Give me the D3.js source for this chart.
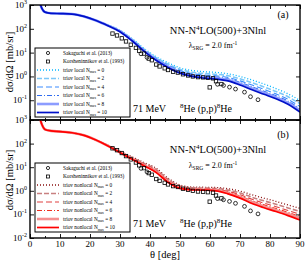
<!DOCTYPE html>
<html>
<head>
<meta charset="utf-8">
<script src="https://cdn.jsdelivr.net/npm/d3@7"></script>
<style>
body { margin: 0; background: #fff; }
text { font-family: "Liberation Serif", "Times New Roman", serif; fill: #000; }
</style>
</head>
<body>
<div id="chart-area"></div>
<script>
// scattering angle grid for the calculations (deg)
var theta = [3, 4, 5, 7, 10, 14, 18, 22, 26, 30, 34, 38, 42, 46, 50, 54, 58, 62, 66, 70, 74, 78, 82, 86, 90]

// (a) local, N_max = 0..10  [mb/sr]
var localN0 = [1580, 708, 501, 447, 437, 417, 331, 224, 145, 87.1, 38.9, 15.1, 6.76, 3.80, 2.29, 1.78, 1.58, 1.48, 1.29, 1.00, 0.708, 0.479, 0.309, 0.186, 0.0977]
var localN2 = [1580, 708, 501, 447, 437, 417, 331, 224, 142, 83.8, 36.7, 14.0, 6.14, 3.34, 1.99, 1.51, 1.33, 1.24, 1.06, 0.792, 0.543, 0.363, 0.234, 0.140, 0.0713]
var localN4 = [1580, 708, 501, 447, 437, 417, 331, 224, 139, 81.1, 34.9, 13.1, 5.65, 2.99, 1.76, 1.32, 1.15, 1.06, 0.900, 0.650, 0.434, 0.286, 0.185, 0.110, 0.0543]
var localN6 = [1580, 708, 501, 447, 437, 417, 331, 224, 138, 79.1, 33.7, 12.5, 5.31, 2.75, 1.61, 1.19, 1.03, 0.942, 0.794, 0.560, 0.366, 0.239, 0.155, 0.0916, 0.0444]
var localN8 = [1580, 708, 501, 447, 437, 417, 331, 224, 136, 77.3, 32.6, 11.9, 5.02, 2.56, 1.48, 1.08, 0.929, 0.849, 0.711, 0.490, 0.314, 0.204, 0.132, 0.0780, 0.0371]
var localN10 = [1580, 708, 501, 447, 437, 417, 331, 224, 135, 75.9, 31.6, 11.5, 4.79, 2.40, 1.38, 1.00, 0.851, 0.776, 0.646, 0.437, 0.275, 0.178, 0.115, 0.0676, 0.0316]

// (b) nonlocal, N_max = 0..10  [mb/sr]
var nonlocalN0 = [1580, 631, 398, 347, 324, 288, 224, 141, 85.1, 47.9, 27.5, 15.8, 9.12, 3.47, 1.78, 1.45, 1.41, 1.38, 1.23, 0.977, 0.676, 0.490, 0.355, 0.251, 0.182]
var nonlocalN2 = [1580, 631, 398, 347, 324, 288, 224, 141, 83.6, 46.0, 25.8, 14.5, 8.13, 3.09, 1.61, 1.34, 1.31, 1.26, 1.07, 0.805, 0.532, 0.376, 0.269, 0.188, 0.132]
var nonlocalN4 = [1580, 631, 398, 347, 324, 288, 224, 141, 82.0, 44.6, 24.4, 13.4, 7.35, 2.79, 1.49, 1.25, 1.22, 1.17, 0.946, 0.682, 0.435, 0.300, 0.212, 0.147, 0.100]
var nonlocalN6 = [1580, 631, 398, 347, 324, 288, 224, 141, 81.1, 43.4, 23.4, 12.6, 6.82, 2.59, 1.40, 1.19, 1.16, 1.10, 0.863, 0.603, 0.372, 0.253, 0.177, 0.122, 0.0813]
var nonlocalN8 = [1580, 631, 398, 347, 324, 288, 224, 141, 80.2, 42.5, 22.6, 12.0, 6.38, 2.43, 1.32, 1.14, 1.11, 1.05, 0.796, 0.540, 0.325, 0.217, 0.151, 0.103, 0.0676]
var nonlocalN10 = [1580, 631, 398, 347, 324, 288, 224, 141, 79.4, 41.7, 21.9, 11.5, 6.03, 2.29, 1.26, 1.10, 1.07, 1.00, 0.741, 0.490, 0.288, 0.191, 0.132, 0.0891, 0.0575]

// experimental data
var sakAngle = [37, 39, 62.5, 64.5, 66.5, 68.5, 71.5, 73.5, 76]
var sakValue = [8.91, 6.31, 0.468, 0.417, 0.355, 0.295, 0.219, 0.141, 0.105]
var korAngle = [27.5, 29, 30.6, 32, 33.6, 35.3, 36.4, 38, 39.6, 40.6, 42.1, 43.2, 44.9, 46, 47.7, 49.3, 51, 52.7, 54.3, 56, 57.7, 59.3, 59.9, 61, 62, 63.8]
var korValue = [63.1, 52.5, 39.8, 29.5, 21.4, 15.8, 12.0, 9.12, 5.62, 4.79, 3.16, 2.63, 2.19, 1.86, 1.58, 1.45, 1.23, 1.10, 1.00, 0.933, 0.912, 0.871, 0.347, 0.832, 0.631, 0.479]

var nmaxLabels = [0, 2, 4, 6, 8, 10]
var xTicks = [0, 10, 20, 30, 40, 50, 60, 70, 80, 90]
var yExpA = [3, 2, 1, 0, -1]
var yExpB = [3, 2, 1, 0, -1, -2]

var localColors = ["#00b4ff", "#7cc8f8", "#3a8cff", "#2f6cf0", "#8c9cff", "#0010c8"]
var nonlocalColors = ["#8b1010", "#c88080", "#e04040", "#f03020", "#f49090", "#ff0000"]
var dashes = ["1,2", "5,2", "6,3", "5,2,1,2", null, null]
var widths = [1.3, 1.6, 1.1, 1.1, 2.6, 1.7]

var W = 306, H = 260
var svg = d3.select("#chart-area").append("svg")
  .attr("width", W)
  .attr("height", H)

var x = d3.scaleLinear().domain([0, 90]).range([30, 300])

var panels = [
  {
    id: "a", top: 5, bottom: 120, ymin: Math.pow(10, -1.83), exps: yExpA,
    series: [localN0, localN2, localN4, localN6, localN8, localN10], colors: localColors,
    kind: "local", tag: "(a)", tagY: 18, titleY: 34, lamY: 48, bottomY: 112,
    legTop: 48, ylabY: 62
  },
  {
    id: "b", top: 120, bottom: 238, ymin: 1e-2, exps: yExpB,
    series: [nonlocalN0, nonlocalN2, nonlocalN4, nonlocalN6, nonlocalN8, nonlocalN10], colors: nonlocalColors,
    kind: "nonlocal", tag: "(b)", tagY: 138, titleY: 153, lamY: 168, bottomY: 227,
    legTop: 163, ylabY: 180
  }
]

panels.forEach(function(p) {
  var y = d3.scaleLog().domain([p.ymin, 1e3]).range([p.bottom, p.top])

  svg.append("clipPath").attr("id", "clip-" + p.id)
    .append("rect")
    .attr("x", 30).attr("y", p.top)
    .attr("width", 270).attr("height", p.bottom - p.top)

  var plot = svg.append("g").attr("clip-path", "url(#clip-" + p.id + ")")

  var line = d3.line()
    .x(function(d) { return x(d[0]) })
    .y(function(d) { return y(d[1]) })
    .curve(d3.curveMonotoneX)

  p.series.forEach(function(vals, i) {
    plot.append("path")
      .datum(theta.map(function(t, k) { return [t, vals[k]] }))
      .attr("d", line)
      .attr("fill", "none")
      .attr("stroke", p.colors[i])
      .attr("stroke-width", widths[i])
      .attr("stroke-dasharray", dashes[i])
  })

  // data points
  plot.selectAll(".sak").data(sakAngle).enter()
    .append("circle")
    .attr("cx", function(d) { return x(d) })
    .attr("cy", function(d, i) { return y(sakValue[i]) })
    .attr("r", 1.9)
    .attr("fill", "none")
    .attr("stroke", "#000")
    .attr("stroke-width", 0.8)

  plot.selectAll(".kor").data(korAngle).enter()
    .append("rect")
    .attr("x", function(d) { return x(d) - 1.7 })
    .attr("y", function(d, i) { return y(korValue[i]) - 1.7 })
    .attr("width", 3.4)
    .attr("height", 3.4)
    .attr("fill", "none")
    .attr("stroke", "#000")
    .attr("stroke-width", 0.8)

  // axes with inward ticks
  var yTickVals = [-2, -1, 0, 1, 2, 3].map(function(e) { return Math.pow(10, e) })
    .filter(function(v) { return v >= p.ymin })
  var yl = svg.append("g").attr("transform", "translate(30,0)")
    .call(d3.axisLeft(y).tickValues(yTickVals).tickSize(-4).tickFormat(""))
  var yr = svg.append("g").attr("transform", "translate(300,0)")
    .call(d3.axisRight(y).tickValues(yTickVals).tickSize(-4).tickFormat(""))

  var xMinor = d3.range(5, 90, 10)
  ;[p.top, p.bottom].forEach(function(yy, j) {
    var ax = j == 0 ? d3.axisTop(x) : d3.axisBottom(x)
    svg.append("g").attr("transform", "translate(0," + yy + ")")
      .call(ax.tickValues(xTicks).tickSize(-4).tickFormat(""))
    var axm = j == 0 ? d3.axisTop(x) : d3.axisBottom(x)
    svg.append("g").attr("transform", "translate(0," + yy + ")")
      .call(axm.tickValues(xMinor).tickSize(-2).tickFormat(""))
  })
  svg.selectAll(".domain").attr("stroke", "none")
  svg.selectAll(".tick line").attr("stroke", "#000").attr("stroke-width", 0.9)

  svg.append("rect")
    .attr("x", 30).attr("y", p.top)
    .attr("width", 270).attr("height", p.bottom - p.top)
    .attr("fill", "none")
    .attr("stroke", "#000")
    .attr("stroke-width", 1.4)

  // y tick labels 10^n
  p.exps.forEach(function(e) {
    var t = svg.append("text")
      .attr("x", 27)
      .attr("y", y(Math.pow(10, e)) + 3)
      .attr("text-anchor", "end")
      .attr("font-size", "9px")
    t.append("tspan").text("10")
    t.append("tspan").attr("dy", -4).attr("font-size", "6px").text(e)
  })

  // y label
  svg.append("text")
    .attr("transform", "translate(13," + p.ylabY + ") rotate(-90)")
    .attr("text-anchor", "middle")
    .attr("font-size", "10.5px")
    .text("dσ/dΩ [mb/sr]")

  // annotations
  svg.append("text").attr("x", 283).attr("y", p.tagY)
    .attr("text-anchor", "middle").attr("font-size", "10px").text(p.tag)

  var tt = svg.append("text").attr("x", 218).attr("y", p.titleY)
    .attr("text-anchor", "middle").attr("font-size", "10.5px")
  tt.append("tspan").text("NN-N")
  tt.append("tspan").attr("dy", -4).attr("font-size", "7px").text("4")
  tt.append("tspan").attr("dy", 4).text("LO(500)+3Nlnl")

  var lt = svg.append("text").attr("x", 213).attr("y", p.lamY)
    .attr("text-anchor", "middle").attr("font-size", "8px")
  lt.append("tspan").text("λ")
  lt.append("tspan").attr("dy", 2).attr("font-size", "5.5px").text("SRG")
  lt.append("tspan").attr("dy", -2).text(" = 2.0 fm")
  lt.append("tspan").attr("dy", -3).attr("font-size", "5.5px").text("-1")

  svg.append("text").attr("x", 133).attr("y", p.bottomY)
    .attr("font-size", "10px").text("71 MeV")
  var ht = svg.append("text").attr("x", 180).attr("y", p.bottomY)
    .attr("font-size", "10px")
  ht.append("tspan").attr("dy", -4).attr("font-size", "7px").text("8")
  ht.append("tspan").attr("dy", 4).text("He (p,p)")
  ht.append("tspan").attr("dy", -4).attr("font-size", "7px").text("8")
  ht.append("tspan").attr("dy", 4).text("He")

  // legend
  var leg = svg.append("g").attr("transform", "translate(35," + p.legTop + ")")
  leg.append("rect")
    .attr("width", 95).attr("height", 69)
    .attr("fill", "#fff").attr("stroke", "#000").attr("stroke-width", 1)
  var rowY = function(i) { return 5 + i * 8.5 }
  leg.append("circle").attr("cx", 13).attr("cy", rowY(0)).attr("r", 1.6)
    .attr("fill", "none").attr("stroke", "#000").attr("stroke-width", 0.8)
  leg.append("rect").attr("x", 11.5).attr("y", rowY(1) - 1.5).attr("width", 3).attr("height", 3)
    .attr("fill", "none").attr("stroke", "#000").attr("stroke-width", 0.8)
  leg.append("text").attr("x", 28).attr("y", rowY(0) + 1.8).attr("font-size", "5.3px")
    .text("Sakaguchi et al. (2013)")
  leg.append("text").attr("x", 28).attr("y", rowY(1) + 1.8).attr("font-size", "5.3px")
    .text("Korsheninnikov et al. (1993)")
  nmaxLabels.forEach(function(n, i) {
    var ry = rowY(i + 2)
    leg.append("line")
      .attr("x1", 2).attr("x2", 24).attr("y1", ry).attr("y2", ry)
      .attr("stroke", p.colors[i])
      .attr("stroke-width", widths[i])
      .attr("stroke-dasharray", dashes[i])
    var lt2 = leg.append("text").attr("x", 28).attr("y", ry + 1.8).attr("font-size", "5.3px")
    lt2.append("tspan").text("triov " + p.kind + " N")
    lt2.append("tspan").attr("dy", 1.3).attr("font-size", "3.6px").text("max")
    lt2.append("tspan").attr("dy", -1.3).text(" = " + n)
  })
})

// x tick labels and title
xTicks.forEach(function(t) {
  svg.append("text")
    .attr("x", x(t)).attr("y", 247)
    .attr("text-anchor", "middle").attr("font-size", "9px")
    .text(t)
})
svg.append("text")
  .attr("x", 165).attr("y", 258)
  .attr("text-anchor", "middle").attr("font-size", "10.5px")
  .text("θ [deg]")
</script>
</body>
</html>
